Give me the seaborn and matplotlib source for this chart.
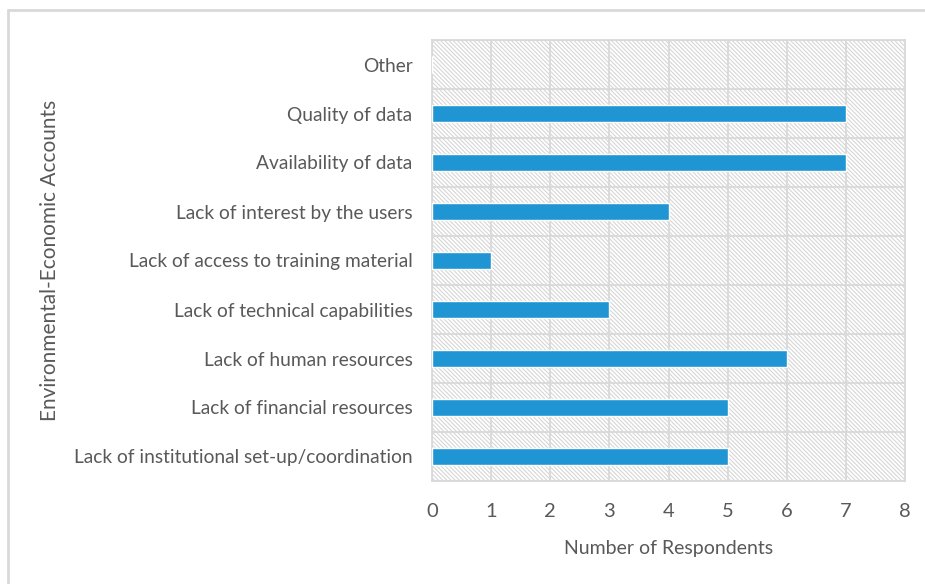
import seaborn as sns
import matplotlib.pyplot as plt
import matplotlib.patches as mpatches
from matplotlib.lines import Line2D
import pandas as pd

categories = [
    'Other',
    'Quality of data',
    'Availability of data',
    'Lack of interest by the users',
    'Lack of access to training material',
    'Lack of technical capabilities',
    'Lack of human resources',
    'Lack of financial resources',
    'Lack of institutional set-up/coordination',
]
respondents = [0, 7, 7, 4, 1, 3, 6, 5, 5]
x_ticks = [0, 1, 2, 3, 4, 5, 6, 7, 8]

df = pd.DataFrame({'category': categories, 'respondents': respondents})

sns.set_style('white')
plt.rcParams['font.family'] = ['Lato', 'DejaVu Sans']
plt.rcParams['hatch.color'] = '#d6d6d6'
plt.rcParams['hatch.linewidth'] = 0.8

grey = '#595959'
grid_c = '#d9d9d9'

fig = plt.figure(figsize=(9.25, 5.84), dpi=100)
ax = fig.add_axes([432 / 925, 1 - 481 / 584, (905 - 432) / 925, (481 - 40) / 584])

# hatched plot-area background
ax.add_patch(mpatches.Rectangle((0, 0), 1, 1, transform=ax.transAxes,
                                facecolor='white', edgecolor='#d6d6d6',
                                hatch='\\' * 8, linewidth=0, zorder=0))

sns.barplot(data=df, y='category', x='respondents', orient='h',
            color='#1f96d3', width=0.33, saturation=1, ax=ax, zorder=3)

ax.set_xlim(0, 8)
ax.set_ylim(len(categories) - 0.5, -0.5)
ax.set_xticks(x_ticks)
ax.set_xticklabels([str(t) for t in x_ticks])

# grid lines
for t in x_ticks:
    ax.axvline(t, color=grid_c, lw=1.3, zorder=1)
for b in range(len(categories) + 1):
    ax.axhline(b - 0.5, color=grid_c, lw=1.3, zorder=1)

ax.set_yticks([b - 0.5 for b in range(len(categories) + 1)], minor=True)
ax.tick_params(axis='y', which='minor', length=7, color=grid_c, width=1.3)
ax.tick_params(axis='y', which='major', length=0, pad=14, labelsize=13.8, labelcolor=grey)
ax.tick_params(axis='x', length=0, pad=16, labelsize=14.5, labelcolor=grey)

for s in ax.spines.values():
    s.set_color(grid_c)
    s.set_linewidth(1.3)

ax.set_xlabel('Number of Respondents', fontsize=14, color=grey, labelpad=14)
ax.set_ylabel('')
fig.text(50 / 925, 1 - 260 / 584, 'Environmental-Economic Accounts', rotation=90,
         ha='center', va='center', fontsize=15, color=grey)

# outer chart frame
fig.add_artist(Line2D([8 / 925, 8 / 925], [0, 1 - 10 / 584], color='#d9d9d9', lw=2,
                      transform=fig.transFigure))
fig.add_artist(Line2D([8 / 925, 1], [1 - 10 / 584, 1 - 10 / 584], color='#d9d9d9', lw=2,
                      transform=fig.transFigure))

fig.savefig('out.png', dpi=100)
